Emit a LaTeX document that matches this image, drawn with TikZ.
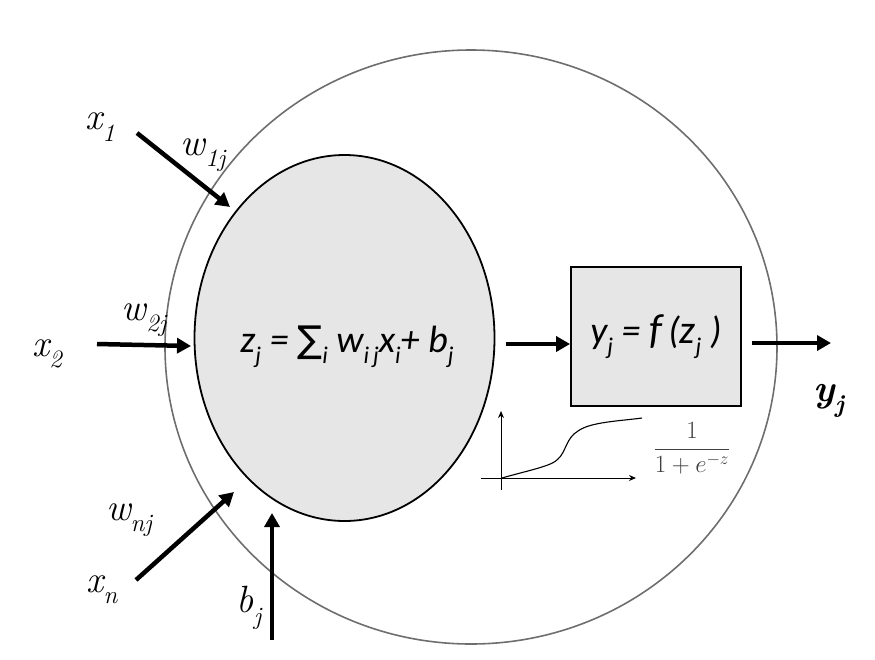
\documentclass[tikz,border=0pt]{standalone}
\usepackage{fontspec}
\newfontfamily\calfont{Carlito}
\newfontfamily\symfont{DejaVu Sans}
\usetikzlibrary{shapes.geometric,arrows.meta}
\newcommand{\lsub}[1]{\raisebox{-0.3em}{\fontsize{25}{25}\selectfont #1}}
\newcommand{\csub}[1]{\raisebox{-0.28em}{\fontsize{24}{24}\selectfont #1}}
\definecolor{fillgray}{HTML}{E6E6E6}
\definecolor{ringgray}{HTML}{6E6E6E}
\tikzset{
  bigarrow/.style={line width=4.5pt, -{Triangle[length=14pt,width=15pt]}},
  lbl/.style={font=\rmfamily\fontsize{38}{38}\selectfont\itshape, inner sep=0pt},
  thinarrow/.style={line width=1pt, -{Stealth[length=7pt,width=6pt]}}
}
\begin{document}
\begin{tikzpicture}[x=1pt,y=-1pt]
\useasboundingbox (0,0) rectangle (875,659);
% outer ring
\draw[ringgray, line width=1.6pt] (471,347) ellipse [x radius=306, y radius=297];
% summation ellipse
\node[ellipse, draw, fill=fillgray, line width=1.8pt, minimum width=300pt, minimum height=366pt, inner sep=0pt] (sum) at (344.5,338) {};
\node[inner sep=0pt, font=\calfont\itshape\fontsize{38}{38}\selectfont] (sumtxt) at (347,347)
  {z\csub{j} = {\upshape\symfont\fontsize{37}{37}\selectfont ∑}\csub{i} w\csub{i\,j}x\csub{i}+ b\csub{j}};
% activation box
\node[draw, fill=fillgray, line width=1.8pt, minimum width=170pt, minimum height=139pt, inner sep=0pt,
  font=\calfont\itshape\fontsize{38}{38}\selectfont] (act) at (656,336.5)
  {y\csub{j} = {\fontsize{42}{42}\selectfont f}\,({\fontsize{40}{40}\selectfont z}\csub{j} )};
% input labels
\node[lbl] (x1) at (100,127) {x\lsub{1}};
\node[lbl] (w1) at (203,155) {w\lsub{1j}};
\node[lbl] (x2) at (47,354) {x\lsub{2}};
\node[lbl] (w2) at (144,320) {w\lsub{2j}};
\node[lbl] (wn) at (129,520) {w\lsub{nj}};
\node[lbl] (xn) at (102,590) {x\lsub{n}};
\node[lbl] (bj) at (249,608) {b\lsub{j}};
\node[inner sep=0pt, font=\rmfamily\fontsize{38}{38}\selectfont\bfseries\itshape] (yj) at (829,401) {y\lsub{\bfseries j}};
% arrow end points
\coordinate (s1) at (137,133); \coordinate (e1) at (230,207);
\coordinate (s2) at (97,344);  \coordinate (e2) at (191,346);
\coordinate (sn) at (136,580); \coordinate (en) at (234,492);
\coordinate (sb) at (272,640); \coordinate (eb) at (272,513);
\coordinate (so) at (506,344);
\coordinate (sy) at (752,343); \coordinate (ey) at (831,343);
\draw[bigarrow] (s1) -- (e1);
\draw[bigarrow] (s2) -- (e2);
\draw[bigarrow] (sn) -- (en);
\draw[bigarrow] (sb) -- (eb);
\draw[bigarrow] (so) -- (so -| act.west);
\draw[bigarrow] (sy) -- (ey);
% sigmoid sketch
\coordinate (ox) at (481,478); \coordinate (xe) at (636,478);
\coordinate (oy) at (501,490); \coordinate (ye) at (501,411);
\draw[thinarrow] (ox) -- (xe);
\draw[thinarrow] (oy) -- (ye);
\coordinate (c0) at (502,478); \coordinate (c1) at (558,459);
\coordinate (c2) at (578,431); \coordinate (c3) at (642,418);
\draw[line width=1.1pt] (c0) .. controls (530,470) and (552,466) .. (c1)
  .. controls (566,452) and (566,438) .. (c2)
  .. controls (590,422) and (620,421) .. (c3);
\node[inner sep=0pt, text=black!75, font=\fontsize{26}{26}\selectfont] (frac) at (692,448)
  {$\displaystyle\frac{1}{1+e^{-z}}$};
\end{tikzpicture}
\end{document}
